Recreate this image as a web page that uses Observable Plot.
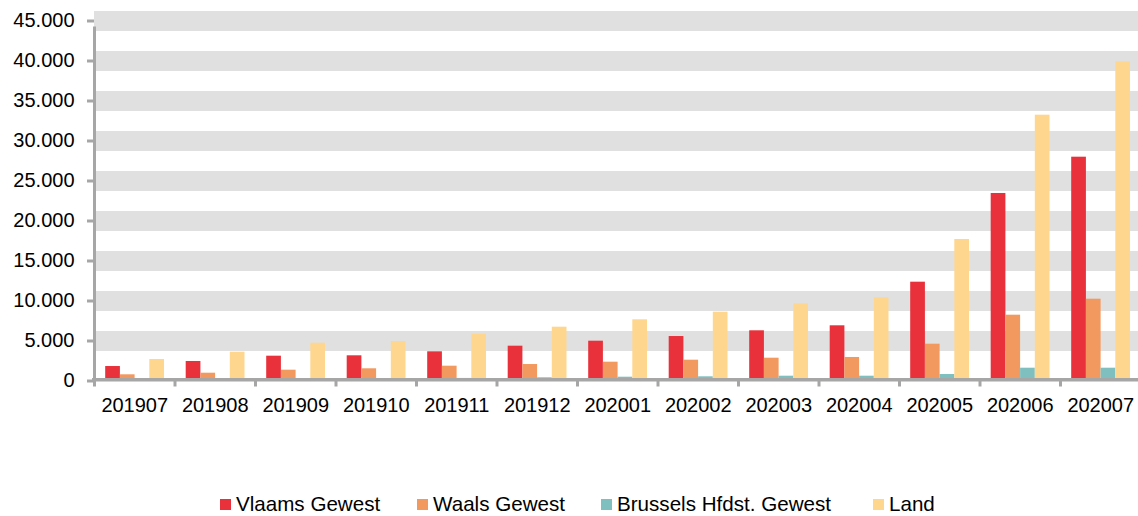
<!DOCTYPE html>
<html>
<head>
<meta charset="utf-8">
<script src="https://cdn.jsdelivr.net/npm/d3@7"></script>
<script src="https://cdn.jsdelivr.net/npm/@observablehq/plot@0.6"></script>
<style>
  html, body { margin: 0; padding: 0; background: #fff; }
  body { font-family: "Liberation Sans", Arial, sans-serif; width: 1138px; height: 516px; overflow: hidden; }
  #chart svg { display: block; }
  #legend { position: relative; height: 28px; line-height: 28px; font-size: 20.6px; color: #000; }
  #legend .item { position: absolute; top: 0; display: flex; align-items: center; height: 28px; white-space: nowrap; }
  #legend .sw { width: 11px; height: 11px; margin-right: 5px; display: inline-block; }
</style>
</head>
<body>
<div id="chart"></div>
<div id="legend"></div>
<script>
// ---- data ----
const months = ["201907","201908","201909","201910","201911","201912","202001","202002","202003","202004","202005","202006","202007"];
const seriesNames = ["Vlaams Gewest","Waals Gewest","Brussels Hfdst. Gewest","Land"];
const vlaams  = [1810, 2440, 3100, 3150, 3650, 4350, 4975, 5560, 6275, 6900, 12350, 23440, 27975];
const waals   = [ 775,  975, 1350, 1525, 1850, 2060, 2350, 2600, 2850, 2940,  4600,  8225, 10225];
const brussel = [ 150,  200,  250,  280,  320,  400,  475,  525,  600,  600,   810,  1600,  1600];
const land    = [2690, 3600, 4725, 4940, 5850, 6725, 7650, 8600, 9650, 10400, 17690, 33225, 39900];
const yTicks  = [0, 5000, 10000, 15000, 20000, 25000, 30000, 35000, 40000, 45000];
const colors  = ["#e8313a", "#f2995f", "#7fbfbf", "#fed68e"];

// ---- layout ----
const W = 1138, H = 490;
const xLeft = 94, xRight = 1140.5, yTop = 20.5, yZero = 380.5;
const bw = (xRight - xLeft) / months.length;
const groupPad = 11.2, barW = 14.7;
const axisColor = "#a6a6a6";
const legendLeft = [220, 417, 601, 873];

const locale = d3.formatLocale({decimal: ",", thousands: ".", grouping: [3], currency: ["€", ""]});
const fmt = locale.format(",.0f");

const seriesValues = [vlaams, waals, brussel, land];
const barMarks = seriesValues.map((vals, k) =>
  Plot.barY(months.map((m, i) => ({month: m, value: vals[i], series: seriesNames[k]})), {
    x: "month",
    y: "value",
    fill: colors[k],
    insetLeft: groupPad + k * barW,
    insetRight: bw - groupPad - (k + 1) * barW
  })
);

const chart = Plot.plot({
  width: W,
  height: H,
  marginLeft: xLeft,
  marginRight: 0,
  marginTop: yTop,
  marginBottom: H - yZero,
  style: {fontFamily: "'Liberation Sans', Arial, sans-serif", fontSize: "20px", color: "#000", background: "#fff", overflow: "visible"},
  x: {type: "band", domain: months, range: [xLeft, xRight], padding: 0, round: false, axis: null},
  y: {domain: [0, 45000], range: [yZero, yTop], axis: null},
  marks: [
    // horizontal bands centred on each gridline
    Plot.ruleY(yTicks.filter(v => v > 0), {stroke: "#e0e0e0", strokeWidth: 20, insetRight: -3}),
    ...barMarks,
    // axis lines
    Plot.ruleY([0], {stroke: axisColor, strokeWidth: 3.4, dy: -1.2, insetLeft: -2, insetRight: -3}),
    Plot.ruleX([months[0]], {x: d => d, dx: -bw / 2, y1: 0, y2: 45000, stroke: axisColor, strokeWidth: 3, insetBottom: -6}),
    // category boundary ticks
    Plot.ruleX(months, {x: d => d, dx: -bw / 2, y1: 0, y2: 0, insetBottom: -6, stroke: axisColor, strokeWidth: 3}),
    // y axis ticks and labels
    Plot.axisY(yTicks, {tickSize: 7, tickPadding: 13, tickFormat: fmt, fontSize: 20, stroke: axisColor, strokeWidth: 3, fill: "#000", label: null}),
    // x axis labels
    Plot.axisX({tickSize: 0, tickPadding: 16.5, fontSize: 20, fill: "#000", label: null})
  ]
});
document.getElementById("chart").appendChild(chart);

// legend
const legend = document.getElementById("legend");
seriesNames.forEach((name, k) => {
  const item = document.createElement("div");
  item.className = "item";
  item.style.left = legendLeft[k] + "px";
  const sw = document.createElement("span");
  sw.className = "sw";
  sw.style.background = colors[k];
  const label = document.createElement("span");
  label.textContent = name;
  item.appendChild(sw);
  item.appendChild(label);
  legend.appendChild(item);
});
</script>
</body>
</html>
